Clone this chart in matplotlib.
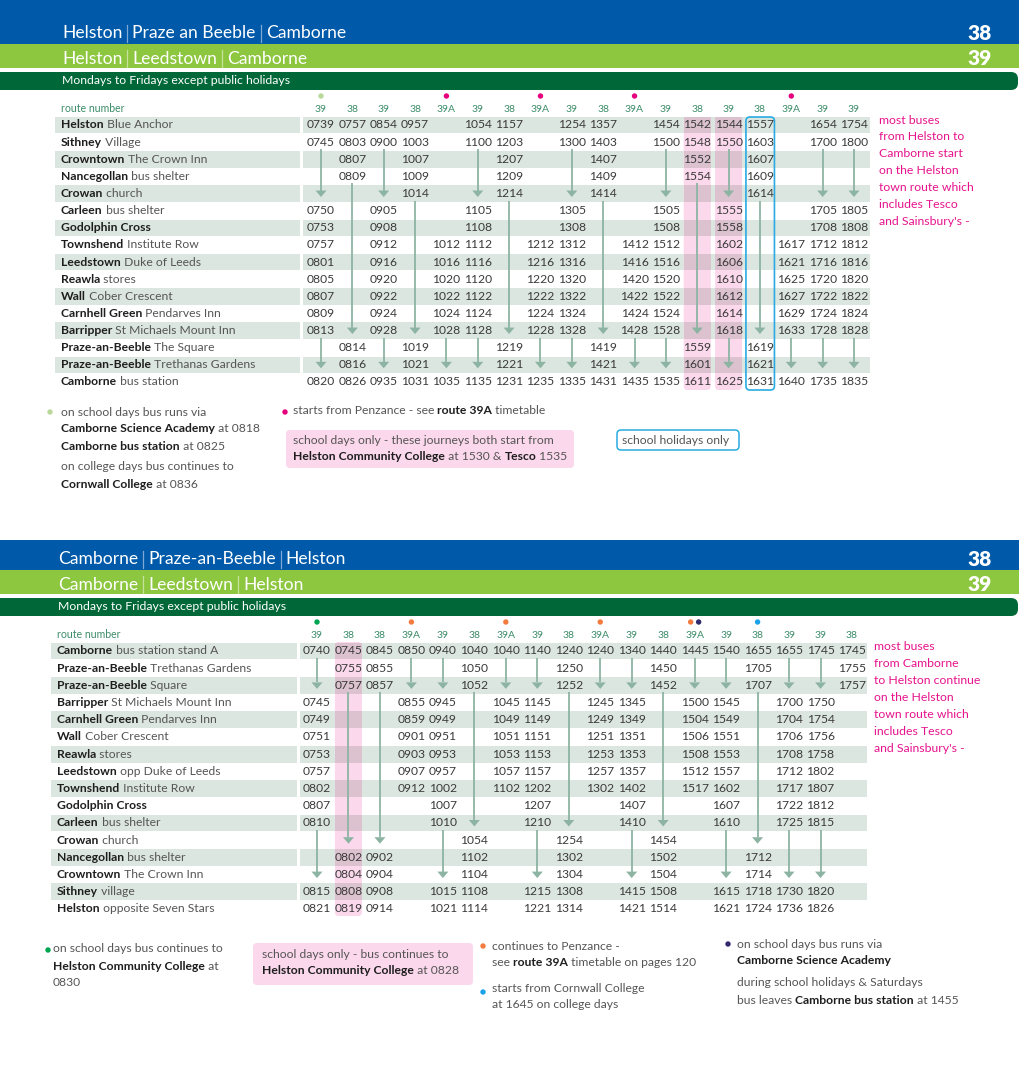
import matplotlib
matplotlib.use('Agg')
import matplotlib.pyplot as plt
from matplotlib.patches import Rectangle, FancyBboxPatch, Polygon, Circle

FONT = 'Lato'
W, H = 1020, 1079

# ---------------- data ----------------
top_stops = [("Helston", "Blue Anchor"), ("Sithney", "Village"), ("Crowntown", "The Crown Inn"),
             ("Nancegollan", "bus shelter"), ("Crowan", "church"), ("Carleen", "bus shelter"),
             ("Godolphin Cross", ""), ("Townshend", "Institute Row"), ("Leedstown", "Duke of Leeds"),
             ("Reawla", "stores"), ("Wall", "Cober Crescent"), ("Carnhell Green", "Pendarves Inn"),
             ("Barripper", "St Michaels Mount Inn"), ("Praze-an-Beeble", "The Square"),
             ("Praze-an-Beeble", "Trethanas Gardens"), ("Camborne", "bus station")]
top_routes = ["39", "38", "39", "38", "39A", "39", "38", "39A", "39", "38", "39A", "39",
              "38", "39", "38", "39A", "39", "39"]
top_times = [
    "0739 0745 | | v 0750 0753 0757 0801 0805 0807 0809 0813 | v 0820",
    "0757 0803 0807 0809 | | | | | | | | v 0814 0816 0826",
    "0854 0900 | | v 0905 0908 0912 0916 0920 0922 0924 0928 | v 0935",
    "0957 1003 1007 1009 1014 | | | | | | | v 1019 1021 1031",
    "- - - - - - - 1012 1016 1020 1022 1024 1028 | v 1035",
    "1054 1100 | | v 1105 1108 1112 1116 1120 1122 1124 1128 | v 1135",
    "1157 1203 1207 1209 1214 | | | | | | | v 1219 1221 1231",
    "- - - - - - - 1212 1216 1220 1222 1224 1228 | v 1235",
    "1254 1300 | | v 1305 1308 1312 1316 1320 1322 1324 1328 | v 1335",
    "1357 1403 1407 1409 1414 | | | | | | | v 1419 1421 1431",
    "- - - - - - - 1412 1416 1420 1422 1424 1428 | v 1435",
    "1454 1500 | | v 1505 1508 1512 1516 1520 1522 1524 1528 | v 1535",
    "1542 1548 1552 1554 | | | | | | | | v 1559 1601 1611",
    "1544 1550 | | v 1555 1558 1602 1606 1610 1612 1614 1618 | v 1625",
    "1557 1603 1607 1609 1614 | | | | | | | v 1619 1621 1631",
    "- - - - - - - 1617 1621 1625 1627 1629 1633 | v 1640",
    "1654 1700 | | v 1705 1708 1712 1716 1720 1722 1724 1728 | v 1735",
    "1754 1800 | | v 1805 1808 1812 1816 1820 1822 1824 1828 | v 1835",
]
top_dots = {0: ["#b9d89a"], 4: ["#e6007e"], 7: ["#e6007e"], 10: ["#e6007e"], 15: ["#e6007e"]}
top_pink_cols = [12, 13]
top_blue_cols = [14]

bot_stops = [("Camborne", "bus station stand A"), ("Praze-an-Beeble", "Trethanas Gardens"),
             ("Praze-an-Beeble", "Square"), ("Barripper", "St Michaels Mount Inn"),
             ("Carnhell Green", "Pendarves Inn"), ("Wall", "Cober Crescent"), ("Reawla", "stores"),
             ("Leedstown", "opp Duke of Leeds"), ("Townshend", "Institute Row"),
             ("Godolphin Cross", ""), ("Carleen", "bus shelter"), ("Crowan", "church"),
             ("Nancegollan", "bus shelter"), ("Crowntown", "The Crown Inn"), ("Sithney", "village"),
             ("Helston", "opposite Seven Stars")]
bot_routes = ["39", "38", "38", "39A", "39", "38", "39A", "39", "38", "39A", "39", "38",
              "39A", "39", "38", "39", "39", "38"]
bot_times = [
    "0740 | v 0745 0749 0751 0753 0757 0802 0807 0810 | | v 0815 0821",
    "0745 0755 0757 | | | | | | | | v 0802 0804 0808 0819",
    "0845 0855 0857 | | | | | | | | v 0902 0904 0908 0914",
    "0850 | v 0855 0859 0901 0903 0907 0912 - - - - - - -",
    "0940 | v 0945 0949 0951 0953 0957 1002 1007 1010 | | v 1015 1021",
    "1040 1050 1052 | | | | | | | v 1054 1102 1104 1108 1114",
    "1040 | v 1045 1049 1051 1053 1057 1102 - - - - - - -",
    "1140 | v 1145 1149 1151 1153 1157 1202 1207 1210 | | v 1215 1221",
    "1240 1250 1252 | | | | | | | v 1254 1302 1304 1308 1314",
    "1240 | v 1245 1249 1251 1253 1257 1302 - - - - - - -",
    "1340 | v 1345 1349 1351 1353 1357 1402 1407 1410 | | v 1415 1421",
    "1440 1450 1452 | | | | | | | v 1454 1502 1504 1508 1514",
    "1445 | v 1500 1504 1506 1508 1512 1517 - - - - - - -",
    "1540 | v 1545 1549 1551 1553 1557 1602 1607 1610 | | v 1615 1621",
    "1655 1705 1707 | | | | | | | | v 1712 1714 1718 1724",
    "1655 | v 1700 1704 1706 1708 1712 1717 1722 1725 | | v 1730 1736",
    "1745 | v 1750 1754 1756 1758 1802 1807 1812 1815 | | v 1820 1826",
    "1745 1755 1757 - - - - - - - - - - - - -",
]
bot_dots = {0: ["#00a651"], 3: ["#f47b3e"], 6: ["#f47b3e"], 9: ["#f47b3e"],
            12: ["#f47b3e", "#2e2a6b"], 14: ["#1aa3e8"]}
bot_pink_cols = [1]

# ---------------- colours ----------------
BLUE = '#005aa9'
LIME = '#8dc63f'
DKGREEN = '#006838'
SHADE = '#dce6e0'
PINK = '#fbd8ec'
PINKSHADE = '#dcc2cf'
ARROW = '#8db4a3'
ROUTEC = '#3c8c68'
TIMEC = '#3a3a3a'
BOLDC = '#1e1e1e'
REGC = '#555555'
MAG = '#e6138c'

fig = plt.figure(figsize=(W / 100, H / 100), dpi=100)
ax = fig.add_axes([0, 0, 1, 1])
ax.set_xlim(0, W)
ax.set_ylim(H, 0)
ax.axis('off')
renderer = fig.canvas.get_renderer()


def runs(x, y, parts, size, va='center'):
    for txt, weight, color in parts:
        t = ax.text(x, y, txt, fontsize=size, fontweight=weight, color=color,
                    va=va, ha='left', family=FONT)
        x += t.get_window_extent(renderer).width
    return x


def header(ytop, title1, title2, mond_y, tx):
    hb = 30 if ytop > 100 else 44
    ax.add_patch(Rectangle((0, ytop), W, hb, color=BLUE, lw=0))
    ax.add_patch(Rectangle((0, ytop + hb), W, 24, color=LIME, lw=0))
    ax.add_patch(FancyBboxPatch((-30, mond_y - 9), W + 28, 18,
                                boxstyle="round,pad=0,rounding_size=7", color=DKGREEN, lw=0))
    y1 = ytop + hb - 11
    y2 = ytop + hb + 14.5
    for y, parts, num, sepc in [(y1, title1, "38", '#7fa8d6'), (y2, title2, "39", '#c5e39a')]:
        x = tx
        for i, p in enumerate(parts):
            if i > 0:
                x += 5
                ax.plot([x, x], [y - 8.5, y + 8.5], color=sepc, lw=0.9)
                x += 5
            x = runs(x, y, [(p, 'normal', 'white')], 12.6)
        ax.text(992, y, num, fontsize=15, fontweight='heavy', color='white',
                ha='right', va='center', family=FONT)
    ax.text(tx, mond_y, "Mondays to Fridays except public holidays", fontsize=8.8,
            color='white', va='center', ha='left', family=FONT)


def table(stops, routes, times, dots, xs, y0, step, lab_x, lab_r, tstart, tend,
          route_y, dot_y, pink_cols, blue_cols, pink_top, pink_bot):
    n = len(stops)
    ys = [y0 + i * step for i in range(n)]
    # shading
    for i in range(0, n, 2):
        ax.add_patch(Rectangle((lab_x - 6, ys[i] - step / 2 + 0.3), lab_r - lab_x + 6, step - 0.6,
                               color=SHADE, lw=0))
        ax.add_patch(Rectangle((tstart, ys[i] - step / 2 + 0.3), tend - tstart, step - 0.6,
                               color=SHADE, lw=0))
    # pink highlight columns
    for c in pink_cols:
        x = xs[c]
        ax.add_patch(FancyBboxPatch((x - 13.5, pink_top), 27, pink_bot - pink_top,
                                    boxstyle="round,pad=0,rounding_size=4", color=PINK, lw=0))
        for i in range(0, n, 2):
            ax.add_patch(Rectangle((x - 13.5, ys[i] - step / 2 + 0.3), 27, step - 0.6,
                                   color=PINKSHADE, lw=0))
    for c in blue_cols:
        x = xs[c]
        ax.add_patch(FancyBboxPatch((x - 14, pink_top), 28.5, pink_bot - pink_top,
                                    boxstyle="round,pad=0,rounding_size=4", fill=False,
                                    ec='#29abe2', lw=1.2))
    ax.text(lab_x, route_y, "route number", fontsize=7.6, color=ROUTEC, va='center',
            ha='left', family=FONT)
    for (b, r), y in zip(stops, ys):
        parts = [(b, 'bold', BOLDC)]
        if r:
            parts.append((" " + r, 'normal', REGC))
        runs(lab_x, y, parts, 8.7)
    for c, (rt, col) in enumerate(zip(routes, times)):
        x = xs[c]
        ax.text(x, route_y, rt, fontsize=7.5, color=ROUTEC, ha='center', va='center', family=FONT)
        if c in dots:
            cl = dots[c]
            off = [0] if len(cl) == 1 else [-4, 4]
            for o, cc in zip(off, cl):
                ax.add_patch(Circle((x + o, dot_y), 2.7, color=cc, lw=0))
        toks = col.split()
        last = None
        for i, tk in enumerate(toks):
            y = ys[i]
            if tk == '-' or tk == '|':
                continue
            if tk == 'v':
                ytop = ys[last] + 7 if last is not None else y - 10
                ax.plot([x, x], [ytop, y - 3], color=ARROW, lw=1.3, solid_capstyle='butt')
                ax.add_patch(Polygon([(x - 5.5, y - 3), (x + 5.5, y - 3), (x, y + 3.5)],
                                     closed=True, color=ARROW, lw=0))
                last = i
            else:
                ax.text(x, y, tk, fontsize=8.7, color=TIMEC, ha='center', va='center',
                        family=FONT)
                last = i


# ---------------- top ----------------
header(0, ["Helston", "Praze an Beeble", "Camborne"], ["Helston", "Leedstown", "Camborne"], 81, 62)
txs = [321 + i * (854 - 321) / 17 for i in range(18)]
table(top_stops, top_routes, top_times, top_dots, txs, 125, 17.13, 61, 300, 303, 870,
      109, 96, top_pink_cols, top_blue_cols, 117, 390)
for i, line in enumerate(["most buses", "from Helston to", "Camborne start", "on the Helston",
                          "town route which", "includes Tesco", "and Sainsbury's -"]):
    ax.text(879, 120 + i * 16.9, line, fontsize=8.8, color=MAG, va='center', ha='left',
            family=FONT)

# top footnotes
FS = 8.7
ax.add_patch(Circle((50, 412), 2.7, color='#b9d89a', lw=0))
runs(61, 412, [("on school days bus runs via", 'normal', REGC)], FS)
runs(61, 429, [("Camborne Science Academy", 'bold', BOLDC), (" at 0818", 'normal', REGC)], FS)
runs(61, 446, [("Camborne bus station", 'bold', BOLDC), (" at 0825", 'normal', REGC)], FS)
runs(61, 467, [("on college days bus continues to", 'normal', REGC)], FS)
runs(61, 484, [("Cornwall College", 'bold', BOLDC), (" at 0836", 'normal', REGC)], FS)
ax.add_patch(Circle((285, 412), 2.7, color='#e6007e', lw=0))
runs(293, 411, [("starts from Penzance - see ", 'normal', REGC), ("route 39A", 'bold', BOLDC),
                (" timetable", 'normal', REGC)], FS)
ax.add_patch(FancyBboxPatch((286, 430), 288, 38, boxstyle="round,pad=0,rounding_size=4",
                            color=PINK, lw=0))
runs(293, 440, [("school days only - these journeys both start from", 'normal', REGC)], FS)
runs(293, 457, [("Helston Community College", 'bold', BOLDC), (" at 1530 & ", 'normal', REGC),
                ("Tesco", 'bold', BOLDC), (" 1535", 'normal', REGC)], FS)
ax.add_patch(FancyBboxPatch((617, 430), 122, 20, boxstyle="round,pad=0,rounding_size=4",
                            fill=False, ec='#29abe2', lw=1.1))
runs(622, 440, [("school holidays only", 'normal', REGC)], FS)

# ---------------- bottom ----------------
header(540, ["Camborne", "Praze-an-Beeble", "Helston"], ["Camborne", "Leedstown", "Helston"], 607, 58)
bxs = [317 + i * (852 - 317) / 17 for i in range(18)]
table(bot_stops, bot_routes, bot_times, bot_dots, bxs, 651, 17.2, 57, 297, 300, 867,
      635, 622, bot_pink_cols, [], 642, 916)
for i, line in enumerate(["most buses", "from Camborne", "to Helston continue", "on the Helston",
                          "town route which", "includes Tesco", "and Sainsbury's -"]):
    ax.text(874, 647 + i * 16.9, line, fontsize=8.8, color=MAG, va='center', ha='left',
            family=FONT)

ax.add_patch(Circle((48, 950), 2.7, color='#00a651', lw=0))
runs(53, 949, [("on school days bus continues to", 'normal', REGC)], FS)
runs(53, 966, [("Helston Community College", 'bold', BOLDC), (" at", 'normal', REGC)], FS)
runs(53, 983, [("0830", 'normal', REGC)], FS)
ax.add_patch(FancyBboxPatch((253, 943), 220, 42, boxstyle="round,pad=0,rounding_size=4",
                            color=PINK, lw=0))
runs(262, 955, [("school days only - bus continues to", 'normal', REGC)], FS)
runs(262, 971, [("Helston Community College", 'bold', BOLDC), (" at 0828", 'normal', REGC)], FS)
ax.add_patch(Circle((483, 946), 2.7, color='#f47b3e', lw=0))
runs(492, 946, [("continues to Penzance -", 'normal', REGC)], FS)
runs(492, 962, [("see ", 'normal', REGC), ("route 39A", 'bold', BOLDC),
                (" timetable on pages 120", 'normal', REGC)], FS)
ax.add_patch(Circle((483, 992), 2.7, color='#1aa3e8', lw=0))
runs(492, 989, [("starts from Cornwall College", 'normal', REGC)], FS)
runs(492, 1004, [("at 1645 on college days", 'normal', REGC)], FS)
ax.add_patch(Circle((728, 944), 2.7, color='#2e2a6b', lw=0))
runs(737, 944, [("on school days bus runs via", 'normal', REGC)], FS)
runs(737, 961, [("Camborne Science Academy", 'bold', BOLDC)], FS)
runs(737, 983, [("during school holidays & Saturdays", 'normal', REGC)], FS)
runs(737, 1000, [("bus leaves ", 'normal', REGC), ("Camborne bus station", 'bold', BOLDC),
                 (" at 1455", 'normal', REGC)], FS)

fig.savefig('out.png', dpi=100)
